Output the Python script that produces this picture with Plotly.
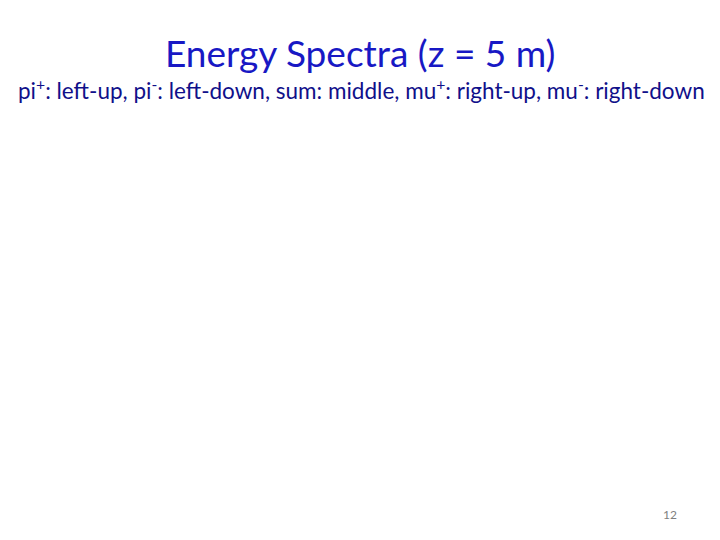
import plotly.graph_objects as go

title_text = "Energy Spectra (z = 5 m)"
subtitle_parts = ["pi<sup>+</sup>: left-up", "pi<sup>-</sup>: left-down", "sum: middle",
                  "mu<sup>+</sup>: right-up", "mu<sup>-</sup>: right-down"]
page_number = "12"

fig = go.Figure()

fig.add_annotation(text=title_text, x=352, y=540 - 44, xref="x", yref="y",
                   showarrow=False, xanchor="center", yanchor="middle",
                   font=dict(family="Lato", size=37, color="#1818C4"))
fig.add_annotation(text=", ".join(subtitle_parts), x=353, y=540 - 81, xref="x", yref="y",
                   showarrow=False, xanchor="center", yanchor="middle",
                   font=dict(family="Lato", size=22.5, color="#10108A"))
fig.add_annotation(text=page_number, x=662, y=540 - 506, xref="x", yref="y",
                   showarrow=False, xanchor="center", yanchor="middle",
                   font=dict(family="Lato", size=12, color="#7F7F7F"))

fig.update_layout(
    width=720, height=540,
    margin=dict(l=0, r=0, t=0, b=0),
    paper_bgcolor="white", plot_bgcolor="white",
    xaxis=dict(visible=False, range=[0, 720], fixedrange=True),
    yaxis=dict(visible=False, range=[0, 540], fixedrange=True),
    showlegend=False,
)

fig.write_html("out.html")
